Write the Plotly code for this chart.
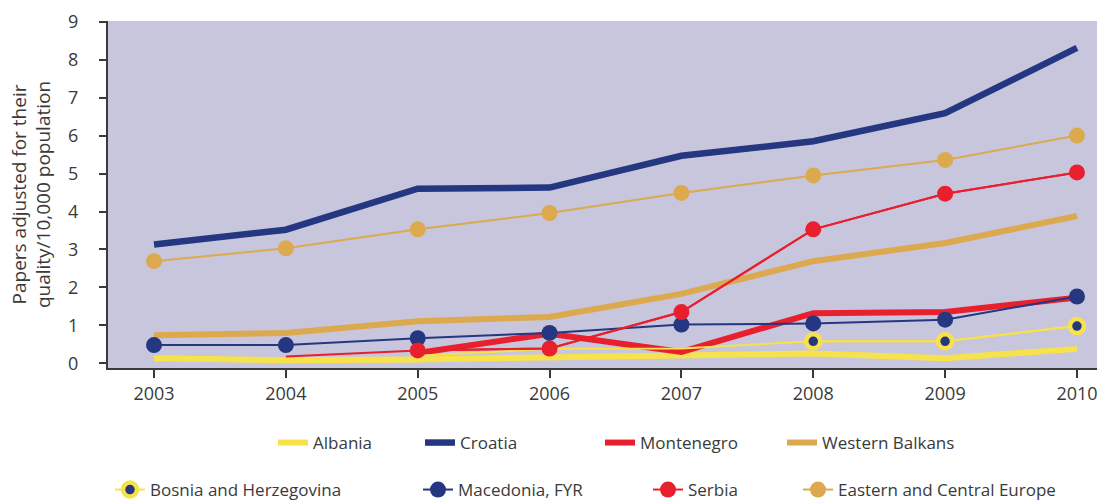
import plotly.graph_objects as go

years = [2003, 2004, 2005, 2006, 2007, 2008, 2009, 2010]

albania = [0.13, 0.08, 0.10, 0.15, 0.20, 0.26, 0.13, 0.38]
croatia = [3.13, 3.52, 4.60, 4.63, 5.47, 5.85, 6.59, 8.31]
western_balkans = [0.74, 0.80, 1.11, 1.22, 1.83, 2.69, 3.17, 3.88]
ece = [2.69, 3.03, 3.53, 3.96, 4.49, 4.95, 5.36, 6.00]
macedonia = [0.48, 0.48, 0.66, 0.80, 1.02, 1.05, 1.15, 1.76]

montenegro_years = [2005, 2006, 2007, 2008, 2009, 2010]
montenegro = [0.27, 0.78, 0.30, 1.32, 1.35, 1.73]

serbia_years = [2004, 2005, 2006, 2007, 2008, 2009, 2010]
serbia = [0.18, 0.34, 0.39, 1.35, 3.53, 4.47, 5.03]

bosnia_years = [2005, 2006, 2007, 2008, 2009, 2010]
bosnia = [0.20, 0.38, 0.39, 0.58, 0.58, 0.98]

y_ticks = [0, 1, 2, 3, 4, 5, 6, 7, 8, 9]

NAVY = "#243780"
RED = "#E8202D"
YELLOW = "#F7E24A"
ORANGE = "#DCA94F"
BG = "#C7C6DC"
AX = "#3a3a3a"
FONT = "Open Sans"

W, H = 1097, 501
L, R, T = 108, 0, 21
B = H - 368
PW = W - L - R
PH = H - T - B

fig = go.Figure()

# drawing order bottom -> top
fig.add_trace(go.Scatter(x=years, y=western_balkans, mode="lines", name="Western Balkans",
                         line=dict(color=ORANGE, width=6), legend="legend4"))
fig.add_trace(go.Scatter(x=years, y=albania, mode="lines", name="Albania",
                         line=dict(color=YELLOW, width=6), legend="legend"))
fig.add_trace(go.Scatter(x=montenegro_years, y=montenegro, mode="lines", name="Montenegro",
                         line=dict(color=RED, width=6), legend="legend3"))
# Bosnia: line over all years, markers only where visible
fig.add_trace(go.Scatter(x=bosnia_years, y=bosnia, mode="lines", showlegend=False,
                         line=dict(color=YELLOW, width=2)))
fig.add_trace(go.Scatter(x=bosnia_years[3:], y=bosnia[3:], mode="lines+markers",
                         name="Bosnia and Herzegovina", legend="legend5",
                         line=dict(color=YELLOW, width=2),
                         marker=dict(color=NAVY, size=14, line=dict(color=YELLOW, width=4.5))))
fig.add_trace(go.Scatter(x=years, y=macedonia, mode="lines+markers", name="Macedonia, FYR",
                         legend="legend6", line=dict(color=NAVY, width=2),
                         marker=dict(color=NAVY, size=16)))
fig.add_trace(go.Scatter(x=serbia_years, y=serbia, mode="lines", showlegend=False,
                         line=dict(color=RED, width=2)))
fig.add_trace(go.Scatter(x=serbia_years[1:], y=serbia[1:], mode="lines+markers", name="Serbia",
                         legend="legend7", line=dict(color=RED, width=2),
                         marker=dict(color=RED, size=16)))
fig.add_trace(go.Scatter(x=years, y=ece, mode="lines+markers", name="Eastern and Central Europe",
                         legend="legend8", line=dict(color=ORANGE, width=2),
                         marker=dict(color=ORANGE, size=16)))
fig.add_trace(go.Scatter(x=years, y=croatia, mode="lines", name="Croatia",
                         line=dict(color=NAVY, width=6.5), legend="legend2"))

# legend placement: page x where each item's text starts, page y of each row
row1_y, row2_y = 443, 490
legend_text_x = {
    "legend": (313, row1_y),
    "legend2": (460, row1_y),
    "legend3": (640, row1_y),
    "legend4": (822, row1_y),
    "legend5": (150, row2_y),
    "legend6": (458, row2_y),
    "legend7": (688, row2_y),
    "legend8": (838, row2_y),
}
legend_layout = {}
for key, (tx, py) in legend_text_x.items():
    fx = tx - 40
    legend_layout[key] = dict(
        x=(fx - L) / PW, y=(H - B - py) / PH, xanchor="left", yanchor="middle",
        orientation="h", bgcolor="rgba(0,0,0,0)", borderwidth=0,
        font=dict(family=FONT, size=17, color=AX), itemwidth=30,
    )

fig.update_layout(
    width=W, height=H,
    margin=dict(l=L, r=R, t=T, b=B, pad=0, autoexpand=False),
    paper_bgcolor="white",
    plot_bgcolor=BG,
    font=dict(family=FONT, size=18, color=AX),
    **legend_layout,
)

fig.update_xaxes(
    range=[2002.651, 2010.152], automargin=False,
    tickmode="array", tickvals=years, ticktext=[str(y) for y in years],
    showgrid=False, zeroline=False,
    showline=True, linecolor=AX, linewidth=2,
    ticks="outside", ticklen=8, tickwidth=1.5, tickcolor=AX,
    tickfont=dict(family=FONT, size=18, color=AX),
    ticklabeloverflow="allow",
    ticklabelstandoff=0,
)
fig.update_yaxes(
    range=[-0.124, 9.02], automargin=False,
    tickmode="array", tickvals=y_ticks, ticktext=[str(v) for v in y_ticks],
    showgrid=False, zeroline=False,
    showline=True, linecolor=AX, linewidth=2,
    ticks="outside", ticklen=7, tickwidth=1.5, tickcolor=AX,
    tickfont=dict(family=FONT, size=18, color=AX),
    ticklabelstandoff=17,
    title=dict(text="Papers adjusted for their<br>quality/10,000 population",
               font=dict(family=FONT, size=19, color=AX), standoff=12),
)

fig.write_html(
    "out.html",
    config={"displayModeBar": False},
    post_script="document.body.style.margin='0';document.body.style.overflow='hidden';",
)
